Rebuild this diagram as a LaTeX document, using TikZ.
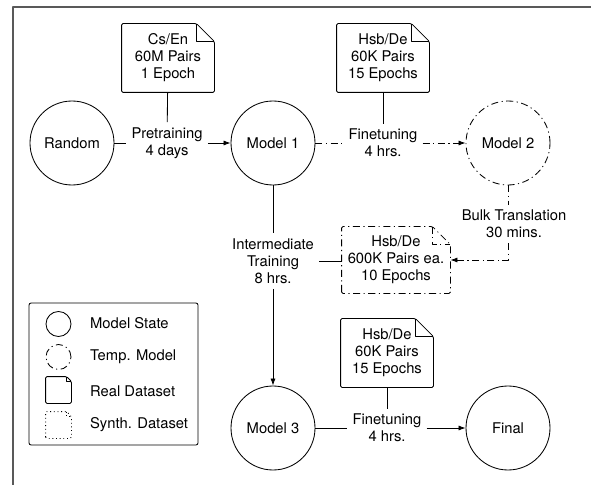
\documentclass[tikz,border=0pt]{standalone}
\usepackage{fontspec}
\setmainfont{TeX Gyre Heros}
\usetikzlibrary{arrows.meta}

\tikzset{
  dashdot/.style={dash pattern=on 5pt off 2.5pt on 0.8pt off 2.5pt},
  state/.style={circle, draw, minimum size=21mm, inner sep=0pt},
  tempstate/.style={state, dashdot},
  dataset/.style={align=center, minimum width=23mm, minimum height=17mm, inner sep=0pt},
  steplabel/.style={align=center, inner sep=3.5pt},
  legicon/.style={circle, draw, minimum size=6.25mm, inner sep=0pt},
  legdoc/.style={minimum width=6.25mm, minimum height=6.5mm, inner sep=0pt},
}

% dog-eared outline round a node: #2 = node, #3 = fold size
\newcommand{\docoutline}[3][]{%
  \draw[rounded corners=1pt, #1] (#2.south west) -- (#2.north west)
    -- ([xshift=-#3]#2.north east) -- ([yshift=-#3]#2.north east)
    -- (#2.south east) -- cycle;
  \draw[#1] ([xshift=-#3]#2.north east) |- ([yshift=-#3]#2.north east);}

\begin{document}
\begin{tikzpicture}[x=0.25mm, y=-0.25mm, >={Latex[length=5pt,width=3.6pt]},
    line join=round, semithick, font=\fontsize{10.5}{12.1}\selectfont]
  \useasboundingbox (0,0) rectangle (591,485);

  % Frame
  \draw[gray!70!black, line width=0.9pt] (13,485) -- (13,7) -- (591,7);

  % Model states
  \node[state] (random) at (72,143) {Random};
  \node[state] (model1) at (273,143) {Model 1};
  \node[tempstate] (model2) at (508,143) {Model 2};
  \node[state] (model3) at (273,428) {Model 3};
  \node[state] (final) at (508,428) {Final};

  % Datasets
  \node[dataset] (csen) at (168,58) {Cs/En\\60M Pairs\\1 Epoch};
  \node[dataset] (hsbde1) at (383,58) {Hsb/De\\60K Pairs\\15 Epochs};
  \node[dataset] (hsbde2) at (387,353) {Hsb/De\\60K Pairs\\15 Epochs};
  \node[dataset, minimum width=27mm, minimum height=16.5mm] (synth) at (396,260)
    {Hsb/De\\600K Pairs ea.\\10 Epochs};
  \docoutline{csen}{4.5mm}
  \docoutline{hsbde1}{4.5mm}
  \docoutline{hsbde2}{4.5mm}
  \docoutline[dashdot]{synth}{4.5mm}

  % Steps
  \node[steplabel] (pretrain) at (167,143) {Pretraining\\4 days};
  \node[steplabel] (finetune1) at (383,143) {Finetuning\\4 hrs.};
  \node[steplabel] (bulk) at (514,224) {Bulk Translation\\30 mins.};
  \node[steplabel] (inter) at (273,261) {Intermediate\\Training\\8 hrs.};
  \node[steplabel] (finetune2) at (387,428) {Finetuning\\4 hrs.};

  % Connectors
  \draw (random) -- (pretrain);
  \draw[->] (pretrain) -- (model1);
  \draw (csen) -- (pretrain);
  \draw[dashdot] (model1) -- (finetune1);
  \draw[dashdot, ->] (finetune1) -- (model2);
  \draw (hsbde1) -- (finetune1);
  \draw[dashdot] (model2.south) -- (model2.south |- bulk.north);
  \draw[dashdot, ->] (model2.south |- bulk.south) |- (synth.east);
  \draw (model1) -- (inter);
  \draw (inter.east) -- (inter.east -| synth.west);
  \draw[->] (inter) -- (model3);
  \draw (model3) -- (finetune2);
  \draw[->] (finetune2) -- (final);
  \draw (hsbde2) -- (finetune2);

  % Legend
  \draw[rounded corners=1.5pt] (29,303) rectangle (198,445);
  \node[legicon] (legstate) at (58.5,324) {};
  \node[legicon, dashdot] (legtemp) at (58.5,357) {};
  \node[legdoc] (legreal) at (58.5,390) {};
  \node[legdoc] (legsynth) at (58.5,425) {};
  \docoutline{legreal}{1.2mm}
  \docoutline[dotted]{legsynth}{1.2mm}
  \node[anchor=west] at (85,323) {Model State};
  \node[anchor=west] at (85,357) {Temp. Model};
  \node[anchor=west] at (85,391) {Real Dataset};
  \node[anchor=west] at (85,425) {Synth. Dataset};
\end{tikzpicture}
\end{document}
